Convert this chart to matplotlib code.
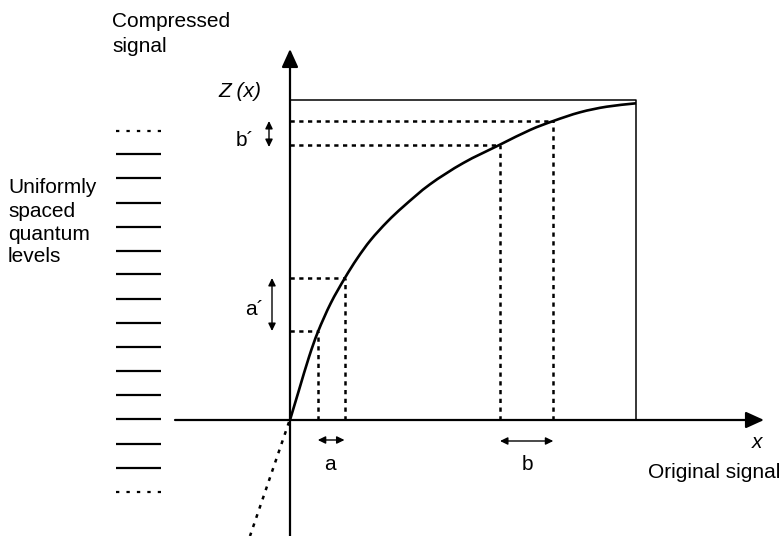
import matplotlib
matplotlib.use("Agg")
import matplotlib.pyplot as plt
from matplotlib.path import Path
from matplotlib.patches import PathPatch

plt.rcParams['font.family'] = ['Liberation Sans Narrow', 'Liberation Sans', 'DejaVu Sans']

# ---- data (diagram units: origin at the graph origin, x right, Z up) ----
curve_x = [0, 9, 19, 28, 40.7, 54.7, 67.3, 80.7, 97.3, 114, 140, 173.3, 209.3,
           240, 263.3, 290, 316.7, 346]
curve_z = [0, 30, 63, 88.3, 116.7, 141.7, 161.7, 180, 198.3, 214, 235.7, 257, 275,
           290, 299, 307.7, 313.3, 316.7]
neg_x = [-1, -40]          # dotted continuation below the origin
neg_z = [-2, -116]

guide_x = [27.8, 54.5, 210, 263.3]  # a-interval and b-interval input points
guide_z = [89, 142, 275, 299]       # corresponding compressed values

box_x = 346
box_z = 320

levels_z = [289, 266, 242, 217, 193, 169, 146, 121, 97, 73, 49, 25, 1, -24, -48, -72]
levels_x = [-174, -129]

a_x = [27.8, 54.5]
b_x = [210, 263.3]
a_prime_z = [89, 142]
b_prime_z = [273, 299]

# ---- figure ----
fig = plt.figure(figsize=(7.84, 5.36), dpi=100)
ax = fig.add_axes([0, 0, 1, 1])
ax.set_xlim(-290, 494)
ax.set_ylim(-116, 420)
ax.axis('off')

k = 'black'

# main axes with arrows
ax.annotate('', xy=(474, 0), xytext=(-115, 0),
            arrowprops=dict(arrowstyle='-|>,head_length=1.1,head_width=0.5',
                            lw=1.6, color=k, shrinkA=0, shrinkB=0))
ax.annotate('', xy=(0, 371), xytext=(0, -120),
            arrowprops=dict(arrowstyle='-|>,head_length=1.1,head_width=0.5',
                            lw=1.6, color=k, shrinkA=0, shrinkB=0))

# bounding box
ax.plot([0, box_x, box_x], [box_z, box_z, 0], color=k, lw=1.1, solid_capstyle='butt')

# guides
dot = (0, (1.7, 1.8))
for gx, gz in zip(guide_x, guide_z):
    ax.plot([gx, gx], [0, gz], color=k, lw=1.8, linestyle=dot, dash_capstyle='butt')
    ax.plot([0, gx], [gz, gz], color=k, lw=1.8, linestyle=dot, dash_capstyle='butt')

# smooth curve through the read points (Catmull-Rom as cubic Bezier segments)
pts = list(zip(curve_x, curve_z))
n = len(pts)
first_ghost = (2 * pts[0][0] - pts[1][0], 2 * pts[0][1] - pts[1][1])
last_ghost = (2 * pts[-1][0] - pts[-2][0], 2 * pts[-1][1] - pts[-2][1])
verts = [pts[0]]
codes = [Path.MOVETO]
for i in range(n - 1):
    p0 = pts[i - 1] if i > 0 else first_ghost
    p1 = pts[i]
    p2 = pts[i + 1]
    p3 = pts[i + 2] if i + 2 < n else last_ghost
    c1 = (p1[0] + (p2[0] - p0[0]) / 6.0, p1[1] + (p2[1] - p0[1]) / 6.0)
    c2 = (p2[0] - (p3[0] - p1[0]) / 6.0, p2[1] - (p3[1] - p1[1]) / 6.0)
    verts += [c1, c2, p2]
    codes += [Path.CURVE4] * 3
ax.add_patch(PathPatch(Path(verts, codes), fill=False, edgecolor=k, lw=1.9,
                       joinstyle='round', capstyle='butt'))
ax.plot(neg_x, neg_z, color=k, lw=1.8, linestyle=(0, (1.5, 2.4)), dash_capstyle='butt')

# quantum levels
for i, lz in enumerate(levels_z):
    if i == 0 or i == len(levels_z) - 1:
        ax.plot(levels_x, [lz, lz], color=k, lw=1.6, linestyle=(0, (1.5, 3.2)),
                dash_capstyle='butt')
    else:
        ax.plot(levels_x, [lz, lz], color=k, lw=1.6, solid_capstyle='butt')

# small interval arrows
small = dict(arrowstyle='<|-|>,head_length=0.45,head_width=0.22', lw=1.0, color=k,
             shrinkA=0, shrinkB=0)
ax.annotate('', xy=(a_x[0], -20), xytext=(a_x[1], -20), arrowprops=small)
ax.annotate('', xy=(b_x[0], -21), xytext=(b_x[1], -21), arrowprops=small)
ax.annotate('', xy=(-18, a_prime_z[0]), xytext=(-18, a_prime_z[1]), arrowprops=small)
ax.annotate('', xy=(-21, b_prime_z[0]), xytext=(-21, b_prime_z[1]), arrowprops=small)

fs = 15
ax.text(-178, 393, 'Compressed', fontsize=fs, va='baseline', ha='left')
ax.text(-178, 368, 'signal', fontsize=fs, va='baseline', ha='left')
ax.text(-29, 323, 'Z (x)', fontsize=fs, style='italic', va='baseline', ha='right')
ax.text(-54, 274, 'b\u00b4', fontsize=fs, va='baseline', ha='left')
ax.text(-45, 105, 'a\u00b4', fontsize=fs, va='baseline', ha='left')
ax.text(40, -50, 'a', fontsize=fs, va='baseline', ha='center')
ax.text(237, -50, 'b', fontsize=fs, va='baseline', ha='center')
ax.text(462, -28, 'x', fontsize=fs, style='italic', va='baseline', ha='left')
ax.text(490, -58, 'Original signal', fontsize=fs, va='baseline', ha='right')
for txt, zz in zip(['Uniformly', 'spaced', 'quantum', 'levels'], [227, 203, 180, 158]):
    ax.text(-282, zz, txt, fontsize=fs, va='baseline', ha='left')

fig.savefig('out.png', dpi=100)
